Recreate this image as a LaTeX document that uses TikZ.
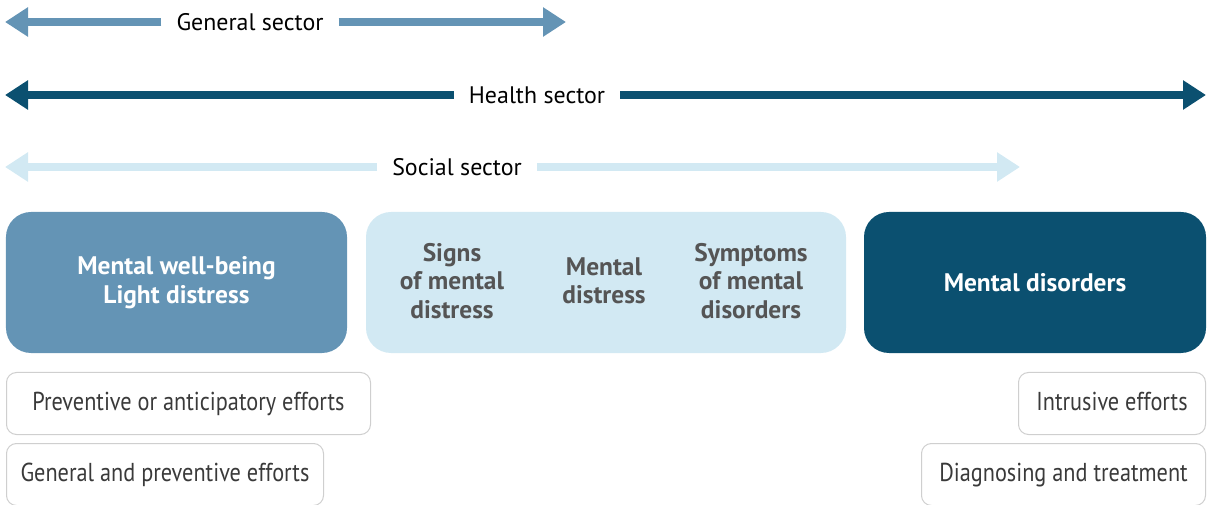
\documentclass[tikz,border=0pt]{standalone}
\usepackage{fontspec}
\setmainfont{PT Sans}
\newfontfamily\effortfont[FakeStretch=0.86]{PT Sans}
\usetikzlibrary{arrows.meta}
\definecolor{genblue}{HTML}{6494B5}
\definecolor{healthblue}{HTML}{0B5070}
\definecolor{socialblue}{HTML}{D2E9F3}
\definecolor{boxtext}{HTML}{555555}
\definecolor{effgray}{HTML}{CFCFCF}
\definecolor{efftext}{HTML}{3A3A3A}
\tikzset{
  secarrow/.style={line width=7.5bp, -{Triangle[length=23bp,width=28bp]}},
  seclabel/.style={inner xsep=15bp, inner ysep=0bp, font=\fontsize{24}{28}\selectfont, text=black},
  bigbox/.style={rounded corners=25bp, minimum width=341bp, minimum height=141bp, inner sep=0bp},
  boldwhite/.style={text=white, align=center, font=\fontsize{25.5}{29}\selectfont\bfseries},
  boldgray/.style={text=boxtext, align=center, font=\fontsize{25.5}{28.5}\selectfont\bfseries},
  effbox/.style={draw=effgray, line width=1bp, fill=white, rounded corners=10bp, minimum height=62bp, inner sep=0bp, text height=18bp, text depth=5bp, text=efftext, font=\effortfont\fontsize{26}{30}\selectfont}
}
\begin{document}
\begin{tikzpicture}[x=1bp,y=-1bp]
\useasboundingbox (0,0) rectangle (1208,505);
% sector arrows
\coordinate (gL) at (5,22);
\coordinate (gR) at (566,22);
\node[seclabel] (gT) at (250,22) {General sector};
\draw[secarrow, genblue] (gT.west) -- (gL);
\draw[secarrow, genblue] (gT.east) -- (gR);

\coordinate (hL) at (5,95);
\coordinate (hR) at (1206,95);
\node[seclabel] (hT) at (537,95) {Health sector};
\draw[secarrow, healthblue] (hT.west) -- (hL);
\draw[secarrow, healthblue] (hT.east) -- (hR);

\coordinate (sL) at (5,167);
\coordinate (sR) at (1020,167);
\node[seclabel] (sT) at (457,167) {Social sector};
\draw[secarrow, socialblue] (sT.west) -- (sL);
\draw[secarrow, socialblue] (sT.east) -- (sR);

% main boxes
\node[bigbox, fill=genblue] (b1) at (176.5,282.5) {};
\node[boldwhite] (b1t) at (b1.center) {Mental well-being\\Light distress};

\node[bigbox, fill=socialblue, minimum width=480bp] (b2) at (606,282.5) {};
\node[boldgray] (b2a) at (452,281) {Signs\\of mental\\distress};
\node[boldgray] (b2b) at (604,281) {Mental\\distress};
\node[boldgray] (b2c) at (751,281) {Symptoms\\of mental\\disorders};

\node[bigbox, fill=healthblue, minimum width=342bp] (b3) at (1035,282.5) {};
\node[boldwhite] (b3t) at (b3.center) {Mental disorders};

% effort boxes
\node[effbox, minimum width=364bp, anchor=north west] (e1) at (6,372) {Preventive or anticipatory efforts};
\node[effbox, minimum width=317bp, anchor=north west] (e2) at (6,443) {General and preventive efforts};
\node[effbox, minimum width=187bp, anchor=north east] (e3) at (1206,372) {Intrusive efforts};
\node[effbox, minimum width=284bp, anchor=north east] (e4) at (1206,443) {Diagnosing and treatment};
\end{tikzpicture}
\end{document}
